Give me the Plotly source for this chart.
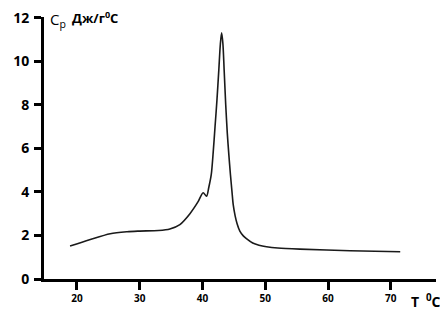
import plotly.graph_objects as go

T = [18.9, 22.0, 25.3, 28.0, 30.0, 33.0, 34.8, 36.4, 38.0, 39.3, 40.1, 40.65, 41.0, 41.4,
     41.7, 42.0, 42.3, 42.6, 42.85, 43.05, 43.25, 43.45, 43.7, 43.95, 44.2, 44.45, 44.7,
     44.9, 45.2, 45.5, 45.95, 46.5, 47.0, 48.0, 49.0, 50.2, 52.0, 55.5, 63.5, 71.5]
Cp = [1.51, 1.80, 2.08, 2.17, 2.20, 2.23, 2.30, 2.50, 3.00, 3.55, 3.96, 3.80, 4.20, 4.80,
      5.80, 7.00, 8.20, 9.60, 10.80, 11.30, 10.80, 9.60, 8.00, 6.70, 5.70, 4.80, 4.00,
      3.40, 2.90, 2.55, 2.20, 1.98, 1.85, 1.65, 1.55, 1.48, 1.42, 1.37, 1.30, 1.25]

x_ticks = [20, 30, 40, 50, 60, 70]
y_ticks = [0, 2, 4, 6, 8, 10, 12]

# page body has an 8px default margin; the figure is placed at (8, 8)
OFF = 8
W, H = 448 - OFF, 316 - OFF
L, R, TOP, B = 44 - OFF, 12, 17 - OFF, 37
pw, ph = W - L - R, H - TOP - B

def px(x):
    return (x - OFF - L) / pw

def py(y):
    return (H - B - (y - OFF)) / ph

fig = go.Figure()
fig.add_trace(go.Scatter(x=T, y=Cp, mode="lines",
                         line=dict(color="#1a1a1a", width=1.6, shape="spline", smoothing=0.8),
                         hoverinfo="skip"))

fig.update_layout(
    width=W, height=H,
    margin=dict(l=L, r=R, t=TOP, b=B),
    paper_bgcolor="white", plot_bgcolor="white",
    showlegend=False,
    font=dict(family="Open Sans, DejaVu Sans, sans-serif", color="black"),
    xaxis=dict(range=[14.75, 77.2], tickvals=x_ticks, ticktext=[str(v) for v in x_ticks],
               showline=True, linecolor="black", linewidth=3, showgrid=False, zeroline=False,
               ticks="outside", ticklen=8, tickwidth=3, tickcolor="black", automargin=False,
               tickfont=dict(size=10, weight="bold", color="black")),
    yaxis=dict(range=[0, 12.03], tickvals=y_ticks, ticktext=[str(v) for v in y_ticks],
               showline=True, linecolor="black", linewidth=3, showgrid=False, zeroline=False,
               ticks="outside", ticklen=7, tickwidth=3, tickcolor="black",
               ticklabelstandoff=2, ticklabeloverflow="allow", automargin=False,
               tickfont=dict(size=14, weight="bold", color="black")),
)

fig.add_annotation(text="C<sub>p</sub>", xref="paper", yref="paper",
                   x=px(48), y=py(20), xanchor="left", yanchor="middle",
                   showarrow=False, font=dict(size=15, color="black"))
fig.add_annotation(text="<b>Дж/г<sup>0</sup>С</b>", xref="paper", yref="paper",
                   x=px(70), y=py(18), xanchor="left", yanchor="middle",
                   showarrow=False, font=dict(size=13, color="black"))
fig.add_annotation(text="<b>T</b>", xref="paper", yref="paper",
                   x=px(415), y=py(301), xanchor="center", yanchor="middle",
                   showarrow=False, font=dict(size=14, color="black"))
fig.add_annotation(text="<b><sup>0</sup>C</b>", xref="paper", yref="paper",
                   x=px(443), y=py(301), xanchor="right", yanchor="middle",
                   showarrow=False, font=dict(size=14, color="black"))

fig.write_html("out.html")
